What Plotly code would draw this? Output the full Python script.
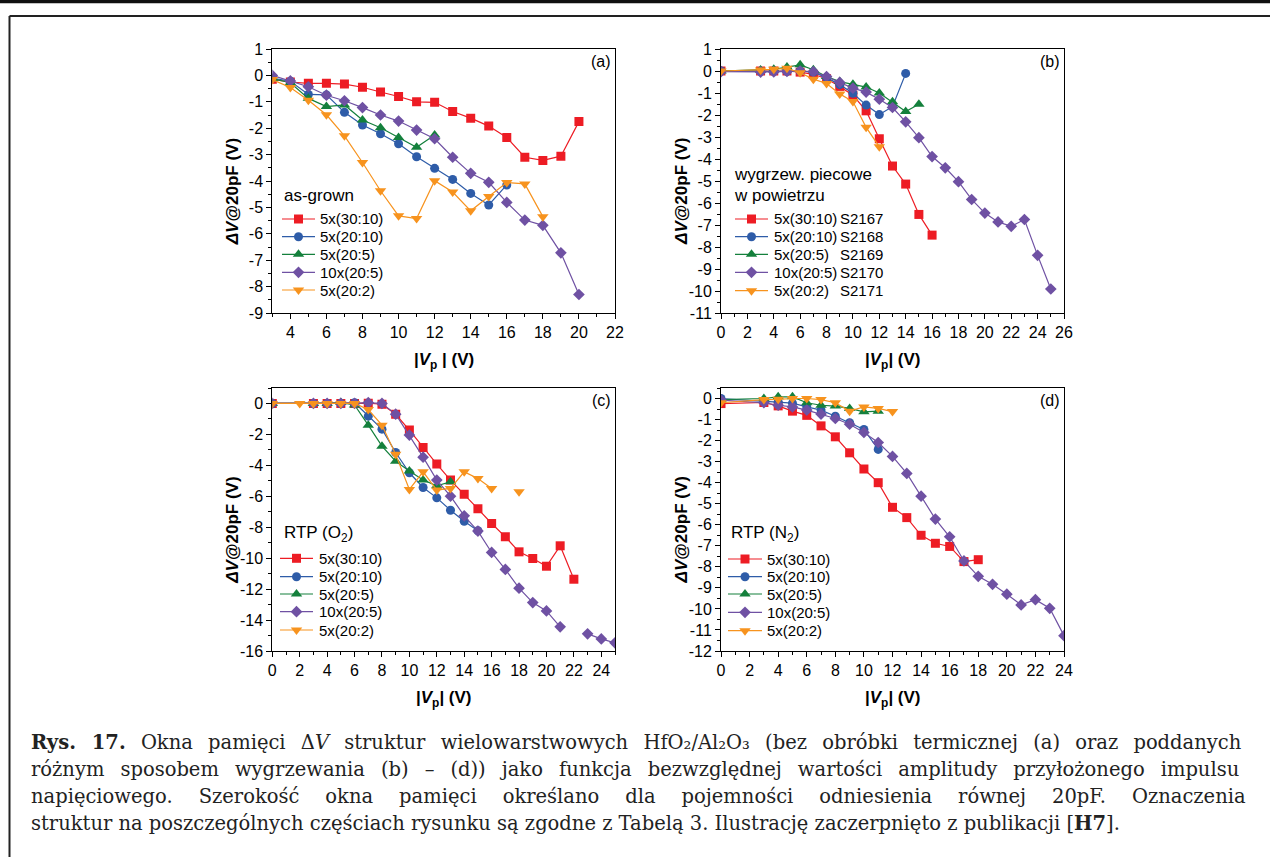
import plotly.graph_objects as go

W, H = 1270, 857
SANS = "Liberation Sans, Arial, sans-serif"
SERIF = "DejaVu Serif, serif"

# ---------------- series (shared across panels) ----------------
series_names = ["5x(30:10)", "5x(20:10)", "5x(20:5)", "10x(20:5)", "5x(20:2)"]
sample_ids = ["S2167", "S2168", "S2169", "S2170", "S2171"]
colors = ["#ED1C24", "#2E5CA8", "#14803C", "#6F51A3", "#F7931E"]
symbols = ["square", "circle", "triangle-up", "diamond", "triangle-down"]
msizes = [9, 9, 10, 9, 10]

# ---------------- (a) as-grown ----------------
a_x_3010 = [3, 4, 5, 6, 7, 8, 9, 10, 11, 12, 13, 14, 15, 16, 17, 18, 19, 20]
a_y_3010 = [-0.15, -0.25, -0.30, -0.30, -0.33, -0.45, -0.63, -0.80, -1.00, -1.02,
            -1.37, -1.62, -1.92, -2.35, -3.10, -3.22, -3.06, -1.75]
a_x_2010 = [3, 4, 5, 6, 7, 8, 9, 10, 11, 12, 13, 14, 15, 16]
a_y_2010 = [-0.10, -0.22, -0.72, -0.74, -1.40, -1.88, -2.21, -2.59, -3.08, -3.52,
            -3.94, -4.47, -4.91, -4.15]
a_x_205 = [3, 4, 5, 6, 7, 8, 9, 10, 11, 12]
a_y_205 = [-0.12, -0.28, -0.87, -1.18, -1.12, -1.69, -1.98, -2.35, -2.72, -2.26]
a_x_10x = [3, 4, 5, 6, 7, 8, 9, 10, 11, 12, 13, 14, 15, 16, 17, 18, 19, 20]
a_y_10x = [0.0, -0.21, -0.43, -0.75, -0.96, -1.22, -1.50, -1.73, -2.07, -2.40,
           -3.10, -3.71, -4.05, -4.81, -5.48, -5.68, -6.72, -8.30]
a_x_202 = [3, 4, 5, 6, 7, 8, 9, 10, 11, 12, 13, 14, 15, 16, 17, 18]
a_y_202 = [-0.16, -0.46, -0.94, -1.49, -2.29, -3.30, -4.37, -5.32, -5.42, -3.99,
           -4.42, -5.13, -4.59, -4.06, -4.11, -5.35]

# ---------------- (b) furnace anneal in air ----------------
b_x_3010 = [0, 3, 4, 5, 6, 7, 8, 9, 10, 11, 12, 13, 14, 15, 16]
b_y_3010 = [0.0, 0.0, 0.0, 0.0, -0.05, -0.15, -0.35, -0.70, -1.10, -1.81, -3.08,
            -4.32, -5.14, -6.52, -7.46]
b_x_2010 = [0, 3, 4, 5, 6, 7, 8, 9, 10, 11, 12, 13, 14]
b_y_2010 = [0.0, -0.02, -0.02, -0.02, 0.0, -0.05, -0.30, -0.62, -1.01, -1.55,
            -1.98, -1.62, -0.11]
b_x_205 = [0, 3, 4, 5, 6, 7, 8, 9, 10, 11, 12, 13, 14, 15]
b_y_205 = [0.0, 0.05, 0.08, 0.18, 0.28, 0.06, -0.25, -0.48, -0.60, -0.73, -1.00,
           -1.40, -1.84, -1.51]
b_x_10x = [0, 3, 4, 5, 6, 7, 8, 9, 10, 11, 12, 13, 14, 15, 16, 17, 18, 19, 20,
           21, 22, 23, 24, 25]
b_y_10x = [-0.03, -0.05, -0.04, -0.02, 0.0, -0.03, -0.25, -0.52, -0.78, -0.96,
           -1.28, -1.66, -2.31, -3.03, -3.89, -4.40, -5.03, -5.84, -6.46, -6.86,
           -7.06, -6.75, -8.38, -9.91]
b_x_202 = [0, 3, 4, 5, 6, 7, 8, 9, 10, 11, 12]
b_y_202 = [0.0, 0.04, 0.08, 0.12, -0.08, -0.37, -0.57, -1.04, -1.39, -2.56, -3.44]

# ---------------- (c) RTP in O2 ----------------
c_x_3010 = [0, 3, 4, 5, 6, 7, 8, 9, 10, 11, 12, 13, 14, 15, 16, 17, 18, 19, 20, 21, 22]
c_y_3010 = [0.0, 0.0, 0.0, 0.0, 0.0, 0.02, -0.05, -0.70, -1.72, -2.84, -3.92,
            -4.95, -5.86, -6.81, -7.76, -8.62, -9.59, -10.02, -10.52, -9.20, -11.36]
c_x_2010 = [0, 3, 4, 5, 6, 7, 8, 9, 10, 11, 12, 13, 14, 15]
c_y_2010 = [0.0, 0.0, 0.0, 0.0, 0.05, -0.82, -1.66, -3.17, -4.48, -5.43, -6.10,
            -6.90, -7.61, -8.23]
c_x_205 = [0, 3, 4, 5, 6, 7, 8, 9, 10, 11, 12, 13]
c_y_205 = [0.0, 0.0, 0.0, 0.06, -0.10, -1.40, -2.76, -3.73, -4.37, -4.95, -5.32, -5.06]
c_x_10x = [0, 3, 4, 5, 6, 7, 8, 9, 10, 11, 12, 13, 14, 15, 16, 17, 18, 19, 20,
           21, 22, 23, 24, 25]
c_y_10x = [0.0, 0.0, 0.0, 0.0, 0.0, 0.05, 0.0, -0.69, -2.04, -3.47, -4.95, -5.99,
           -7.26, -8.25, -9.63, -10.73, -11.94, -12.87, -13.41, -14.44, None,
           -14.89, -15.22, -15.47]
c_x_202 = [0, 2, 3, 4, 5, 6, 7, 8, 9, 10, 11, 12, 13, 14, 15, 16, 17, 18]
c_y_202 = [0.0, 0.0, 0.0, 0.0, 0.0, 0.0, -0.39, -1.40, -3.29, -5.56, -4.42,
           -5.60, -5.49, -4.42, -4.85, -5.49, None, -5.71]

# ---------------- (d) RTP in N2 ----------------
d_x_3010 = [0, 3, 4, 5, 6, 7, 8, 9, 10, 11, 12, 13, 14, 15, 16, 17, 18]
d_y_3010 = [-0.24, -0.19, -0.35, -0.60, -0.80, -1.30, -1.82, -2.58, -3.35, -4.00,
            -5.17, -5.66, -6.50, -6.88, -7.03, -7.75, -7.66]
d_x_2010 = [0, 3, 4, 5, 6, 7, 8, 9, 10, 11]
d_y_2010 = [0.0, -0.12, -0.16, -0.22, -0.40, -0.55, -0.84, -1.15, -1.47, -2.42]
d_x_205 = [0, 3, 4, 5, 6, 7, 8, 9, 10, 11]
d_y_205 = [-0.05, 0.0, 0.08, 0.08, -0.20, -0.32, -0.36, -0.47, -0.63, -0.60]
d_x_10x = [0, 3, 4, 5, 6, 7, 8, 9, 10, 11, 12, 13, 14, 15, 16, 17, 18, 19, 20,
           21, 22, 23, 24]
d_y_10x = [-0.08, -0.20, -0.32, -0.40, -0.55, -0.74, -0.95, -1.22, -1.61, -2.09,
           -2.75, -3.56, -4.64, -5.73, -6.57, -7.72, -8.45, -8.83, -9.30, -9.81,
           -9.56, -9.97, -11.27]
d_x_202 = [0, 3, 4, 5, 6, 7, 8, 9, 10, 11, 12]
d_y_202 = [-0.20, -0.05, -0.04, 0.0, 0.0, -0.05, -0.20, -0.60, -0.40, -0.47, -0.62]

# ---------------- tick labels ----------------
a_xticks = [4, 6, 8, 10, 12, 14, 16, 18, 20, 22]
a_yticks = [1, 0, -1, -2, -3, -4, -5, -6, -7, -8, -9]
b_xticks = [0, 2, 4, 6, 8, 10, 12, 14, 16, 18, 20, 22, 24, 26]
b_yticks = [1, 0, -1, -2, -3, -4, -5, -6, -7, -8, -9, -10, -11]
c_xticks = [0, 2, 4, 6, 8, 10, 12, 14, 16, 18, 20, 22, 24]
c_yticks = [0, -2, -4, -6, -8, -10, -12, -14, -16]
d_xticks = [0, 2, 4, 6, 8, 10, 12, 14, 16, 18, 20, 22, 24]
d_yticks = [0, -1, -2, -3, -4, -5, -6, -7, -8, -9, -10, -11, -12]

panels = [
    dict(key="a", label="(a)",
         xs=[a_x_3010, a_x_2010, a_x_205, a_x_10x, a_x_202],
         ys=[a_y_3010, a_y_2010, a_y_205, a_y_10x, a_y_202],
         xr=[3, 22], yr=[-9, 1], xt=a_xticks, yt=a_yticks, ymin=0.5,
         box=(272.3, 49, 615, 313)),
    dict(key="b", label="(b)",
         xs=[b_x_3010, b_x_2010, b_x_205, b_x_10x, b_x_202],
         ys=[b_y_3010, b_y_2010, b_y_205, b_y_10x, b_y_202],
         xr=[0, 26], yr=[-11, 1], xt=b_xticks, yt=b_yticks, ymin=0.5,
         box=(721, 49, 1064, 313)),
    dict(key="c", label="(c)",
         xs=[c_x_3010, c_x_2010, c_x_205, c_x_10x, c_x_202],
         ys=[c_y_3010, c_y_2010, c_y_205, c_y_10x, c_y_202],
         xr=[0, 25], yr=[-16, 1], xt=c_xticks, yt=c_yticks, ymin=1,
         box=(272.3, 388, 615, 651)),
    dict(key="d", label="(d)",
         xs=[d_x_3010, d_x_2010, d_x_205, d_x_10x, d_x_202],
         ys=[d_y_3010, d_y_2010, d_y_205, d_y_10x, d_y_202],
         xr=[0, 24], yr=[-12, 0.5], xt=d_xticks, yt=d_yticks, ymin=0.5,
         box=(721, 388, 1064, 651)),
]


def fmt(v):
    # plain hyphen-minus for negative labels
    return str(v)


def px(x):
    return x / W


def py(y):
    return 1 - y / H


def minor_vals(lo, hi, step):
    vals, v = [], lo
    while v <= hi + 1e-9:
        vals.append(round(v, 6))
        v += step
    return vals


fig = go.Figure()
layout = dict(
    width=W, height=H, margin=dict(l=0, r=0, t=0, b=0, autoexpand=False),
    paper_bgcolor="white", plot_bgcolor="rgba(0,0,0,0)", showlegend=False,
)

TICKFONT = dict(family=SANS, size=16, color="black")
for i, p in enumerate(panels):
    n = "" if i == 0 else str(i + 1)
    x0, y0, x1, y1 = p["box"]
    common = dict(showline=True, mirror=True, linecolor="black", linewidth=1,
                  ticks="outside", ticklen=5, tickwidth=1, tickcolor="black",
                  showgrid=False, zeroline=False, tickfont=TICKFONT,
                  fixedrange=True)
    xa = dict(common)
    xa.update(domain=[px(x0), px(x1)], range=p["xr"], tickmode="array",
              tickvals=p["xt"], ticktext=[fmt(v) for v in p["xt"]],
              anchor="y" + n,
              minor=dict(tickmode="array",
                         tickvals=minor_vals(p["xr"][0], p["xr"][1], 1),
                         ticks="outside", ticklen=3, tickwidth=1,
                         tickcolor="black", showgrid=False))
    ya = dict(common)
    ya.update(domain=[py(y1), py(y0)], range=p["yr"], tickmode="array",
              tickvals=p["yt"], ticktext=[fmt(v) for v in p["yt"]],
              anchor="x" + n,
              minor=dict(tickmode="array",
                         tickvals=minor_vals(p["yr"][0], p["yr"][1], p["ymin"]),
                         ticks="outside", ticklen=3, tickwidth=1,
                         tickcolor="black", showgrid=False))
    layout["xaxis" + n] = xa
    layout["yaxis" + n] = ya
    for k in range(5):
        fig.add_trace(go.Scatter(
            x=p["xs"][k], y=p["ys"][k], xaxis="x" + n, yaxis="y" + n,
            mode="lines+markers", connectgaps=False,
            line=dict(color=colors[k], width=1.2),
            marker=dict(symbol=symbols[k], size=msizes[k], color=colors[k],
                        line=dict(width=0)),
            name=series_names[k], hoverinfo="x+y",
        ))

# pixel-space overlay used for legend keys
layout["xaxis5"] = dict(domain=[0, 1], range=[0, W], visible=False, fixedrange=True,
                        anchor="y5")
layout["yaxis5"] = dict(domain=[0, 1], range=[H, 0], visible=False, fixedrange=True,
                        anchor="x5")

annotations = []


def ann(text, x, y, size, xanchor="left", yanchor="middle", family=SANS,
        angle=0, color="black"):
    annotations.append(dict(
        text=text, x=px(x), y=py(y), xref="paper", yref="paper", showarrow=False,
        xanchor=xanchor, yanchor=yanchor, textangle=angle,
        font=dict(family=family, size=size, color=color), borderpad=0))


# legend blocks: key line span, text x, row y's, title lines
legend_blocks = [
    dict(x0=282, x1=315, tx=319, rows=[219, 236.7, 254.3, 272.3, 290],
         titles=[("as-grown", 283, 196)], ids=False),
    dict(x0=735, x1=768, tx=773, rows=[219, 236.7, 254.3, 272.3, 290.7],
         titles=[("wygrzew. piecowe", 733, 174), ("w powietrzu", 733, 196)], ids=True),
    dict(x0=280, x1=313, tx=318, rows=[558.3, 576.7, 594, 611.7, 630],
         titles=[("RTP (O<sub>2</sub>)", 283, 534)], ids=False),
    dict(x0=728, x1=762, tx=766, rows=[559, 576.7, 594, 612.3, 630.7],
         titles=[("RTP (N<sub>2</sub>)", 730, 534)], ids=False),
]
for blk in legend_blocks:
    for t, tx, ty in blk["titles"]:
        ann(t, tx, ty, 17)
    for k, ry in enumerate(blk["rows"]):
        fig.add_trace(go.Scatter(
            x=[blk["x0"], blk["x1"]], y=[ry, ry], xaxis="x5", yaxis="y5",
            mode="lines", line=dict(color=colors[k], width=1.2), hoverinfo="skip"))
        fig.add_trace(go.Scatter(
            x=[(blk["x0"] + blk["x1"]) / 2], y=[ry], xaxis="x5", yaxis="y5",
            mode="markers", hoverinfo="skip", cliponaxis=False,
            marker=dict(symbol=symbols[k], size=msizes[k], color=colors[k],
                        line=dict(width=0))))
        ann(series_names[k], blk["tx"], ry, 15)
        if blk["ids"]:
            ann(sample_ids[k], 839, ry, 15)

# panel letters, axis titles
ytitle = "<b><i>\u0394V</i>@20pF (V)</b>"
for p in panels:
    x0, y0, x1, y1 = p["box"]
    ann(p["label"], x1 - 3, y0 + 12, 16, xanchor="right")
    ann(ytitle, x0 - 40, (y0 + y1) / 2 + 11, 17, xanchor="center", angle=-90)
    xt = "<b>|<i>V</i><sub>p</sub> | (V)</b>" if p["key"] == "a" else \
         "<b>|<i>V</i><sub>p</sub>| (V)</b>"
    ann(xt, (x0 + x1) / 2, y1 + 48, 17, xanchor="center")

# caption, justified through per-line word spacing
caption_lines = [
    "<b>Rys. 17.</b> Okna pamięci Δ<i>V</i> struktur wielowarstwowych HfO₂/Al₂O₃ "
    "(bez obróbki termicznej (a) oraz poddanych",
    "różnym sposobem wygrzewania (b) – (d)) jako funkcja bezwzględnej wartości "
    "amplitudy przyłożonego impulsu",
    "napięciowego. Szerokość okna pamięci określano dla pojemności odniesienia "
    "równej 20pF. Oznaczenia",
    "struktur na poszczególnych częściach rysunku są zgodne z Tabelą 3. "
    "Ilustrację zaczerpnięto z publikacji [<b>H7</b>].",
]
caption_spacing = [9.0, 9.8, 19.8, 0]
caption_y = [742, 769, 796, 823]
for line, sp, cy in zip(caption_lines, caption_spacing, caption_y):
    txt = f'<span style="word-spacing:{sp}px">{line}</span>' if sp else line
    ann(txt, 30, cy, 19.5, family=SERIF, color="#222222")

layout["annotations"] = annotations

# page rule and frame
layout["shapes"] = [
    dict(type="rect", xref="paper", yref="paper", x0=0, x1=1, y0=py(3.3), y1=py(0),
         fillcolor="#111111", line=dict(width=0)),
    dict(type="line", xref="paper", yref="paper", x0=px(9.5), x1=1, y0=py(16), y1=py(16),
         line=dict(color="#222222", width=2)),
    dict(type="line", xref="paper", yref="paper", x0=px(9.5), x1=px(9.5), y0=py(16), y1=0,
         line=dict(color="#222222", width=2)),
]

fig.update_layout(**layout)
fig.write_html(
    "out.html",
    post_script="document.body.style.margin='0';document.body.style.overflow='hidden';",
)
